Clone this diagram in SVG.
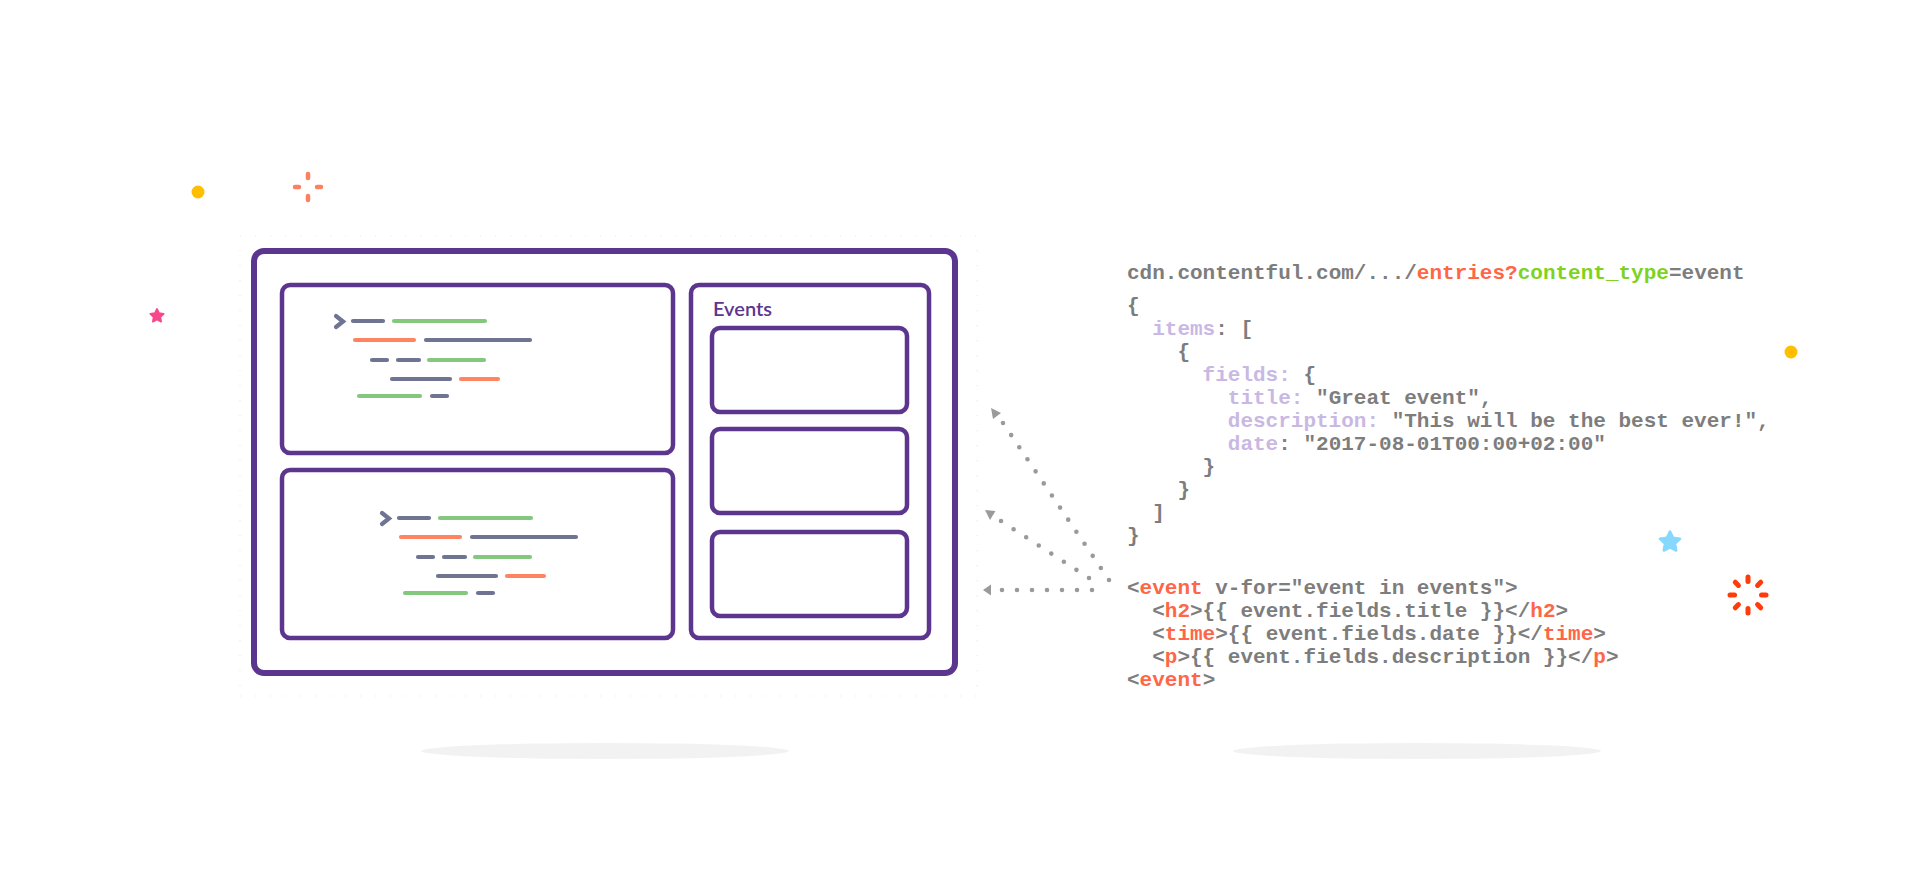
<svg xmlns="http://www.w3.org/2000/svg" xmlns:xlink="http://www.w3.org/1999/xlink" width="1908" height="887" viewBox="0 0 1908 887">
<style>
.frame{fill:#fff;stroke:#5c358f;stroke-width:6}
.panel{fill:#fff;stroke:#5c358f;stroke-width:4.5}
.ln{fill:none;stroke-width:4.2;stroke-linecap:round}
.g{stroke:#6f7493}.gr{stroke:#84c87f}.o{stroke:#ff8562}
.tick{fill:none;stroke:#ececec;stroke-width:1.2}
.dots{fill:none;stroke:#9a9a9a;stroke-width:4.6;stroke-linecap:round}
.head{fill:#9a9a9a}
.code{font-family:"Liberation Mono","Courier New",monospace;font-size:21px;font-weight:bold;fill:#7d7d7d}
.k{fill:#c9b8e3}.t{fill:#ff6647}.u{fill:#7ed321}
.ev{font-family:Lato,"Noto Sans",sans-serif;font-size:20px;font-weight:600;fill:#5c358f}
</style>
<defs>
<path id="star" d="M0,-10 L2.94,-4.05 L9.51,-3.09 L4.76,1.55 L5.88,8.09 L0,5 L-5.88,8.09 L-4.76,1.55 L-9.51,-3.09 L-2.94,-4.05 Z" stroke-linejoin="round" stroke-width="2.5"/>
<g id="codelines">
<path class="ln g" d="M336,316 L343,321.5 L336,327"/>
<line class="ln g" x1="353" y1="321" x2="383" y2="321"/>
<line class="ln gr" x1="394" y1="321" x2="485" y2="321"/>
<line class="ln o" x1="355" y1="340" x2="414" y2="340"/>
<line class="ln g" x1="426" y1="340" x2="530" y2="340"/>
<line class="ln g" x1="372" y1="360" x2="387" y2="360"/>
<line class="ln g" x1="398" y1="360" x2="419" y2="360"/>
<line class="ln gr" x1="429" y1="360" x2="484" y2="360"/>
<line class="ln g" x1="392" y1="379" x2="450" y2="379"/>
<line class="ln o" x1="461" y1="379" x2="498" y2="379"/>
<line class="ln gr" x1="359" y1="396" x2="420" y2="396"/>
<line class="ln g" x1="432" y1="396" x2="447" y2="396"/>
</g>
</defs>
<rect width="1908" height="887" fill="#fff"/>

<g id="decorations">
<circle cx="198" cy="192" r="6.5" fill="#ffbf00"/>
<circle cx="1791" cy="352" r="6.5" fill="#ffbf00"/>
<g id="crosshair" stroke="#ff7f61" stroke-width="4.5" stroke-linecap="round">
<line x1="308" y1="174" x2="308" y2="178"/>
<line x1="308" y1="196" x2="308" y2="200"/>
<line x1="295" y1="187" x2="299" y2="187"/>
<line x1="317" y1="187" x2="321" y2="187"/>
</g>
<use xlink:href="#star" href="#star" transform="translate(157,316) scale(0.7)" fill="#f5498b" stroke="#f5498b"/>
<use xlink:href="#star" href="#star" transform="translate(1670,542) scale(1.05)" fill="#87d8ff" stroke="#87d8ff"/>
<g id="spinner" transform="translate(1748,595)" stroke="#ff3b0a" stroke-width="5" stroke-linecap="round">
<line x1="0" y1="-13.5" x2="0" y2="-18"/>
<line x1="0" y1="-13.5" x2="0" y2="-18" transform="rotate(45)"/>
<line x1="0" y1="-13.5" x2="0" y2="-18" transform="rotate(90)"/>
<line x1="0" y1="-13.5" x2="0" y2="-18" transform="rotate(135)"/>
<line x1="0" y1="-13.5" x2="0" y2="-18" transform="rotate(180)"/>
<line x1="0" y1="-13.5" x2="0" y2="-18" transform="rotate(225)"/>
<line x1="0" y1="-13.5" x2="0" y2="-18" transform="rotate(270)"/>
<line x1="0" y1="-13.5" x2="0" y2="-18" transform="rotate(315)"/>
</g>
<ellipse cx="605" cy="751" rx="184" ry="8" fill="#f2f2f2"/>
<ellipse cx="1417" cy="751" rx="184" ry="8" fill="#f2f2f2"/>
<g id="ticks">
<line class="tick" x1="240" y1="236" x2="978" y2="236" stroke-dasharray="1.2 13.8"/>
<line class="tick" x1="240" y1="696" x2="978" y2="696" stroke-dasharray="1.2 13.8"/>
<line class="tick" x1="240" y1="250" x2="240" y2="696" stroke-dasharray="1.2 13.8"/>
<line class="tick" x1="977" y1="250" x2="977" y2="696" stroke-dasharray="1.2 13.8"/>
</g>
</g>

<g id="browser-frame">
<rect class="frame" x="254" y="251" width="701" height="422" rx="10"/>
</g>
<g id="panel-top">
<rect class="panel" x="282" y="285" width="391" height="168" rx="8"/>
<use xlink:href="#codelines" href="#codelines"/>
</g>
<g id="panel-bottom">
<rect class="panel" x="282" y="470" width="391" height="168" rx="8"/>
<use xlink:href="#codelines" href="#codelines" transform="translate(46,197)"/>
</g>
<g id="events-panel">
<rect class="panel" x="691" y="285" width="238" height="353" rx="8"/>
<text class="ev" x="713" y="316">Events</text>
</g>
<g id="event-card-1"><rect class="panel" x="712" y="328" width="195" height="84" rx="8"/></g>
<g id="event-card-2"><rect class="panel" x="712" y="429" width="195" height="84" rx="8"/></g>
<g id="event-card-3"><rect class="panel" x="712" y="532" width="195" height="84" rx="8"/></g>

<g id="connectors">
<path class="dots" d="M1109,580 L1002.5,422.3" stroke-dasharray="0 14.57"/>
<polygon class="head" points="991,408 1001,413 993,419"/>
<path class="dots" d="M1089,578 L1000.5,520.7" stroke-dasharray="0 14.97"/>
<polygon class="head" points="985,510 995.5,511 990,520"/>
<path class="dots" d="M1092,590 L1001,590" stroke-dasharray="0 15"/>
<polygon class="head" points="983,590 991,584.5 991,595.5"/>
</g>

<g id="api-response" class="code" xml:space="preserve">
<text x="1127" y="279">cdn.contentful.com/.../<tspan class="t">entries?</tspan><tspan class="u">content_type</tspan>=event</text>
<text x="1127" y="312">{</text>
<text x="1152.2" y="335"><tspan class="k">items</tspan>: [</text>
<text x="1177.4" y="358">{</text>
<text x="1202.6" y="381"><tspan class="k">fields:</tspan> {</text>
<text x="1227.8" y="404"><tspan class="k">title:</tspan> "Great event",</text>
<text x="1227.8" y="427"><tspan class="k">description:</tspan> "This will be the best ever!",</text>
<text x="1227.8" y="450"><tspan class="k">date</tspan>: "2017-08-01T00:00+02:00"</text>
<text x="1202.6" y="473">}</text>
<text x="1177.4" y="496">}</text>
<text x="1152.2" y="519">]</text>
<text x="1127" y="542">}</text>
</g>
<g id="vue-template" class="code" xml:space="preserve">
<text x="1127" y="594">&lt;<tspan class="t">event</tspan> v-for="event in events"&gt;</text>
<text x="1152.2" y="617">&lt;<tspan class="t">h2</tspan>&gt;{{ event.fields.title }}&lt;/<tspan class="t">h2</tspan>&gt;</text>
<text x="1152.2" y="640">&lt;<tspan class="t">time</tspan>&gt;{{ event.fields.date }}&lt;/<tspan class="t">time</tspan>&gt;</text>
<text x="1152.2" y="663">&lt;<tspan class="t">p</tspan>&gt;{{ event.fields.description }}&lt;/<tspan class="t">p</tspan>&gt;</text>
<text x="1127" y="686">&lt;<tspan class="t">event</tspan>&gt;</text>
</g>
</svg>
